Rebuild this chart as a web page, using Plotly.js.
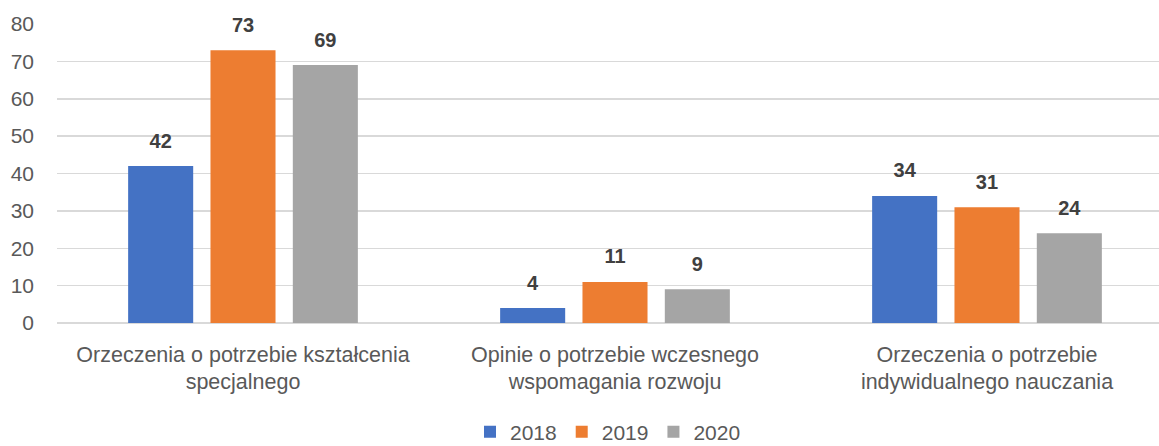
<!DOCTYPE html>
<html>
<head>
<meta charset="utf-8">
<script src="https://cdn.plot.ly/plotly-3.0.1.min.js"></script>
<style>html,body{margin:0;padding:0;background:#fff;}#chart{width:1159px;height:446px;}</style>
</head>
<body>
<div id="chart"></div>
<script>
const categories = [
  "Orzeczenia o potrzebie kształcenia<br>specjalnego",
  "Opinie o potrzebie wczesnego<br>wspomagania rozwoju",
  "Orzeczenia o potrzebie<br>indywidualnego nauczania"
];
const seriesNames = ["2018", "2019", "2020"];
const values2018 = [42, 4, 34];
const values2019 = [73, 11, 31];
const values2020 = [69, 9, 24];
const yTicks = [0, 10, 20, 30, 40, 50, 60, 70, 80];

const colors = ["#4472C4", "#ED7D31", "#A5A5A5"];
const allValues = [values2018, values2019, values2020];
const FONT = "Liberation Sans, Arial, sans-serif";

const traces = [];
allValues.forEach((vals, i) => {
  traces.push({
    type: "bar",
    name: seriesNames[i],
    x: categories,
    y: vals,
    marker: {color: colors[i]},
    offsetgroup: String(i),
    hoverinfo: "skip"
  });
});
allValues.forEach((vals, i) => {
  traces.push({
    type: "scatter",
    mode: "markers+text",
    x: categories,
    y: vals,
    text: vals.map(String),
    textposition: "top center",
    textfont: {family: FONT, size: 20, color: "#404040", weight: "bold"},
    marker: {size: 20, color: "rgba(0,0,0,0)"},
    offsetgroup: String(i),
    showlegend: false,
    hoverinfo: "skip",
    cliponaxis: false
  });
});

const layout = {
  width: 1159,
  height: 446,
  margin: {l: 57, r: 0, t: 24, b: 123, autoexpand: false},
  paper_bgcolor: "#fff",
  plot_bgcolor: "#fff",
  barmode: "group",
  bargap: 0.336,
  bargroupgap: 0.21,
  scattermode: "group",
  scattergap: 0.336,
  font: {family: FONT, color: "#595959", size: 21},
  xaxis: {
    type: "category",
    range: [-0.5, 2.4624],
    showgrid: false,
    showline: false,
    zeroline: false,
    ticks: "",
    tickfont: {family: FONT, size: 21.5, color: "#595959"},
    ticklabelstandoff: 16,
    automargin: false,
    fixedrange: true
  },
  yaxis: {
    range: [0, 80],
    tickvals: yTicks,
    ticktext: yTicks.map(String),
    showgrid: true,
    gridcolor: "#D9D9D9",
    gridwidth: 1.5,
    zeroline: true,
    zerolinecolor: "#D9D9D9",
    zerolinewidth: 1.5,
    showline: false,
    ticks: "",
    tickfont: {family: FONT, size: 21, color: "#595959"},
    ticklabelstandoff: 22,
    automargin: false,
    fixedrange: true
  },
  legend: {
    orientation: "h",
    x: 0.5,
    xanchor: "center",
    y: -0.365,
    yanchor: "middle",
    borderwidth: 0,
    font: {family: FONT, size: 21, color: "#595959"},
    traceorder: "normal"
  },
  showlegend: true
};

Plotly.newPlot("chart", traces, layout, {displayModeBar: false, staticPlot: true});
</script>
</body>
</html>
